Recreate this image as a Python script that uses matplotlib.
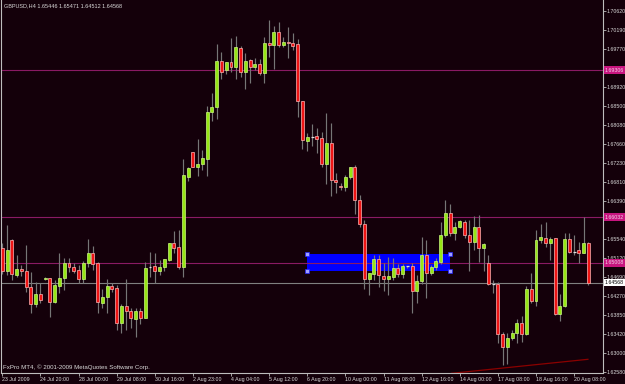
import matplotlib
matplotlib.use("Agg")
import matplotlib.pyplot as plt
import matplotlib.transforms as mtransforms
from matplotlib.patches import Rectangle
import numpy as np

plt.rcParams['font.family'] = ['Liberation Sans Narrow', 'Liberation Sans', 'DejaVu Sans']

# ---------------- data ----------------
opens = [1.6534, 1.6483, 1.6552, 1.6474, 1.6487, 1.6483, 1.6447, 1.6410, 1.6432, 1.6465,
         1.6467, 1.6414, 1.6450, 1.6467, 1.6501, 1.6492, 1.6485, 1.6465, 1.6501, 1.6523,
         1.6501, 1.6412, 1.6425, 1.6450, 1.6445, 1.6367, 1.6405, 1.6394, 1.6376, 1.6394,
         1.6378, 1.6491, 1.6494, 1.6483, 1.6492, 1.6507, 1.6545, 1.6536, 1.6492, 1.6692,
         1.6748, 1.6715, 1.6721, 1.6732, 1.6837, 1.6848, 1.6951, 1.6931, 1.6948, 1.6937,
         1.6980, 1.6926, 1.6953, 1.6937, 1.6944, 1.6924, 1.6991, 1.6986, 1.7015, 1.6986,
         1.6993, 1.6991, 1.6989, 1.6862, 1.6773, 1.6781, 1.6784, 1.6779, 1.6721, 1.6768,
         1.6686, 1.6672, 1.6670, 1.6692, 1.6715, 1.6641, 1.6588, 1.6465, 1.6476, 1.6510,
         1.6472, 1.6465, 1.6470, 1.6490, 1.6476, 1.6493, 1.6494, 1.6438, 1.6461, 1.6519,
         1.6479, 1.6492, 1.6503, 1.6563, 1.6612, 1.6568, 1.6581, 1.6592, 1.6563, 1.6548,
         1.6581, 1.6534, 1.6501, 1.6454, 1.6454, 1.6343, 1.6314, 1.6334, 1.6345, 1.6367,
         1.6343, 1.6443, 1.6416, 1.6552, 1.6556, 1.6545, 1.6556, 1.6387, 1.6405, 1.6554,
         1.6526, 1.6530, 1.6523, 1.65446]
highs = [1.6545, 1.6585, 1.6554, 1.6519, 1.6496, 1.6541, 1.6481, 1.6459, 1.6456, 1.6470,
         1.6467, 1.6463, 1.6523, 1.6512, 1.6512, 1.6501, 1.6496, 1.6505, 1.6554, 1.6539,
         1.6503, 1.6443, 1.6465, 1.6456, 1.6452, 1.6410, 1.6465, 1.6401, 1.6401, 1.6401,
         1.6503, 1.6525, 1.6523, 1.6507, 1.6510, 1.6545, 1.6572, 1.6574, 1.6732, 1.6715,
         1.6748, 1.6777, 1.6752, 1.6850, 1.6879, 1.6989, 1.6971, 1.6948, 1.7002, 1.7006,
         1.6984, 1.6969, 1.6955, 1.6957, 1.6955, 1.7004, 1.7042, 1.7029, 1.7038, 1.7004,
         1.7026, 1.7013, 1.7000, 1.6862, 1.6790, 1.6810, 1.6801, 1.6793, 1.6835, 1.6813,
         1.6701, 1.6679, 1.6697, 1.6715, 1.6719, 1.6652, 1.6597, 1.6479, 1.6519, 1.6519,
         1.6501, 1.6514, 1.6512, 1.6499, 1.6499, 1.6494, 1.6501, 1.6474, 1.6559, 1.6552,
         1.6496, 1.6512, 1.6592, 1.6641, 1.6632, 1.6592, 1.6597, 1.6597, 1.6597, 1.6606,
         1.6608, 1.6545, 1.6519, 1.6463, 1.6458, 1.6347, 1.6345, 1.6352, 1.6376, 1.6383,
         1.6450, 1.6479, 1.6574, 1.6588, 1.6592, 1.6559, 1.6556, 1.6432, 1.6568, 1.6568,
         1.6563, 1.6548, 1.6603, 1.65471]
lows = [1.6476, 1.6474, 1.6463, 1.6470, 1.6472, 1.6436, 1.6390, 1.6403, 1.6412, 1.6463,
        1.6381, 1.6412, 1.6434, 1.6441, 1.6481, 1.6479, 1.6456, 1.6456, 1.6492, 1.6485,
        1.6390, 1.6401, 1.6390, 1.6436, 1.6352, 1.6345, 1.6352, 1.6356, 1.6336, 1.6365,
        1.6378, 1.6470, 1.6456, 1.6474, 1.6483, 1.6505, 1.6523, 1.6487, 1.6470, 1.6683,
        1.6715, 1.6695, 1.6708, 1.6695, 1.6817, 1.6822, 1.6911, 1.6922, 1.6926, 1.6911,
        1.6915, 1.6888, 1.6902, 1.6931, 1.6920, 1.6902, 1.6960, 1.6933, 1.6982, 1.6982,
        1.6957, 1.6975, 1.6826, 1.6755, 1.6750, 1.6761, 1.6746, 1.6715, 1.6677, 1.6650,
        1.6657, 1.6663, 1.6661, 1.6688, 1.6610, 1.6581, 1.6443, 1.6430, 1.6463, 1.6447,
        1.6438, 1.6430, 1.6463, 1.6470, 1.6467, 1.6490, 1.6390, 1.6412, 1.6454, 1.6423,
        1.6474, 1.6485, 1.6499, 1.6559, 1.6561, 1.6552, 1.6579, 1.6556, 1.6483, 1.6530,
        1.6503, 1.6483, 1.6452, 1.6434, 1.6323, 1.6274, 1.6276, 1.6329, 1.6323, 1.6325,
        1.6341, 1.6412, 1.6405, 1.6545, 1.6536, 1.6507, 1.6385, 1.6372, 1.6403, 1.6523,
        1.6519, 1.6501, 1.6523, 1.64512]
closes = [1.6483, 1.6530, 1.6476, 1.6487, 1.6483, 1.6447, 1.6410, 1.6432, 1.6418, 1.6467,
          1.6414, 1.6452, 1.6467, 1.6501, 1.6492, 1.6483, 1.6465, 1.6501, 1.6523, 1.6499,
          1.6414, 1.6425, 1.6450, 1.6443, 1.6367, 1.6405, 1.6394, 1.6378, 1.6394, 1.6378,
          1.6490, 1.6491, 1.6483, 1.6492, 1.6510, 1.6545, 1.6534, 1.6492, 1.6697, 1.6712,
          1.6715, 1.6721, 1.6735, 1.6837, 1.6848, 1.6951, 1.6926, 1.6948, 1.6937, 1.6982,
          1.6926, 1.6951, 1.6937, 1.6944, 1.6924, 1.6991, 1.6986, 1.7015, 1.6986, 1.6993,
          1.6991, 1.6984, 1.6862, 1.6775, 1.6781, 1.6781, 1.6777, 1.6721, 1.6768, 1.6686,
          1.6681, 1.6670, 1.6692, 1.6715, 1.6641, 1.6588, 1.6465, 1.6479, 1.6510, 1.6474,
          1.6465, 1.6472, 1.6490, 1.6476, 1.6494, 1.6493, 1.6438, 1.6461, 1.6519, 1.6479,
          1.6492, 1.6505, 1.6563, 1.6612, 1.6568, 1.6581, 1.6594, 1.6563, 1.6548, 1.6581,
          1.6534, 1.6543, 1.6454, 1.6454, 1.6343, 1.6314, 1.6334, 1.6345, 1.6367, 1.6343,
          1.6443, 1.6416, 1.6552, 1.6559, 1.6545, 1.6554, 1.6387, 1.6405, 1.6554, 1.6525,
          1.6526, 1.6523, 1.6545, 1.64568]

time_labels = ["23 Jul 2009", "24 Jul 20:00", "28 Jul 00:00", "29 Jul 08:00", "30 Jul 16:00",
               "2 Aug 23:00", "4 Aug 04:00", "5 Aug 12:00", "6 Aug 20:00", "10 Aug 00:00",
               "11 Aug 08:00", "12 Aug 16:00", "14 Aug 00:00", "17 Aug 08:00", "18 Aug 16:00",
               "20 Aug 08:00"]
time_label_bars = list(range(0, 121, 8))

price_ticks = [1.70620, 1.70190, 1.69770, 1.69350, 1.68920, 1.68500, 1.68080, 1.67660,
               1.67230, 1.66810, 1.66390, 1.65540, 1.65120, 1.64690, 1.64270, 1.63850,
               1.63420, 1.63000, 1.62580]

level_prices = [1.69306, 1.66032, 1.65008]
level_labels = ["1.69306", "1.66032", "1.65008"]
bid_price = 1.64568

rect_bars = [63.9, 94.0]
rect_prices = [1.64823, 1.65202]

trend_bars = [94.3, 122.9]
trend_prices = [1.62551, 1.62863]

title = "GBPUSD,H4 1.65446 1.65471 1.64512 1.64568"
copyright_text = "FxPro MT4, \u00a9 2001-2009 MetaQuotes Software Corp."

# ---------------- style ----------------
BG = '#14000a'
FG = '#d9d9d9'
AXC = '#bdbdbd'
BULL = '#96e614'
BULL_EDGE = '#c9f77f'
BEAR = '#ee1414'
BEAR_EDGE = '#ffb3b3'
WICK = '#767676'
LEVEL = '#8a1a64'
LEVEL_BOX = '#c8157f'
FS_AX = 3.8
FS_TITLE = 4.0
FS_COPY = 4.4

W, H = 625, 384
fig = plt.figure(figsize=(W / 100, H / 100), dpi=100, facecolor=BG)
ax = fig.add_axes([1 / W, (H - 373) / H, 602 / W, 373 / H], facecolor=BG)

px_per_bar = 4.765
x0_bar = -(2.3 - 1) / px_per_bar
x1_bar = (603 - 2.3) / px_per_bar
ax.set_xlim(x0_bar, x1_bar)
ax.set_ylim(1.62558, 1.70865)

idx = np.arange(len(opens))
o = np.array(opens); h = np.array(highs); l = np.array(lows); c = np.array(closes)

# rectangle object (behind candles)
ax.add_patch(Rectangle((rect_bars[0], rect_prices[0]), rect_bars[1] - rect_bars[0],
                       rect_prices[1] - rect_prices[0], facecolor='#0000ff',
                       edgecolor='none', zorder=1))
for bx in rect_bars:
    for py in rect_prices:
        ax.plot([bx], [py], marker='s', ms=2.2, mfc='#a0a0ff', mec='#2020ff',
                mew=0.5, zorder=6)

# horizontal levels
for p in level_prices:
    ax.axhline(p, color=LEVEL, lw=0.8, zorder=2)
ax.axhline(bid_price, color='#808080', lw=0.8, zorder=2)

# trend line
ax.plot(trend_bars, trend_prices, color='#8b0000', lw=0.9, zorder=2)

# wicks
ax.vlines(idx, l, h, color=WICK, lw=0.85, zorder=3)

# bodies
bull = c > o
bear = c < o
doji = c == o
bw = 0.62
ax.bar(idx[bull], (c - o)[bull], bottom=o[bull], width=bw, color=BULL,
       edgecolor=BULL_EDGE, linewidth=0.5, zorder=4)
ax.bar(idx[bear], (o - c)[bear], bottom=c[bear], width=bw, color=BEAR,
       edgecolor=BEAR_EDGE, linewidth=0.5, zorder=4)
ax.hlines(c[doji], idx[doji] - bw / 2, idx[doji] + bw / 2, color='#e0e0e0',
          lw=0.9, zorder=4)

# spines
ax.spines['top'].set_visible(False)
for s in ['left', 'right', 'bottom']:
    ax.spines[s].set_color(AXC)
    ax.spines[s].set_linewidth(0.8)

# axes ticks
ax.yaxis.tick_right()
ax.set_yticks(price_ticks)
ax.set_yticklabels([f"{p:.5f}" for p in price_ticks])
ax.tick_params(axis='y', direction='out', length=2, width=0.6, color=AXC,
               labelcolor=FG, labelsize=FS_AX, pad=0.8)
ax.set_xticks(time_label_bars)
ax.set_xticklabels(time_labels)
ax.tick_params(axis='x', direction='out', length=2, width=0.6, color=AXC,
               labelcolor=FG, labelsize=FS_AX, pad=1.2)
for t in ax.get_xticklabels():
    t.set_ha('left')

# level price boxes on the right axis
trans = mtransforms.blended_transform_factory(ax.transAxes, ax.transData)
for p, lab in zip(level_prices, level_labels):
    ax.text(1.003, p, lab, transform=trans, ha='left', va='center', fontsize=FS_AX,
            color='#f4d4ea', clip_on=False, zorder=10,
            bbox=dict(boxstyle='square,pad=0.2', fc=LEVEL_BOX, ec='none'))
ax.text(1.003, bid_price, f"{bid_price:.5f}", transform=trans, ha='left', va='center',
        fontsize=FS_AX, color='black', clip_on=False, zorder=10,
        bbox=dict(boxstyle='square,pad=0.2', fc='white', ec='none'))

# texts
fig.text(4 / W, 1 - 6 / H, title, color=FG, fontsize=FS_TITLE, ha='left', va='center')
fig.text(3 / W, 1 - 367 / H, copyright_text, color=FG, fontsize=FS_COPY, ha='left',
         va='center')

fig.savefig('out.png', dpi=100, facecolor=BG)
